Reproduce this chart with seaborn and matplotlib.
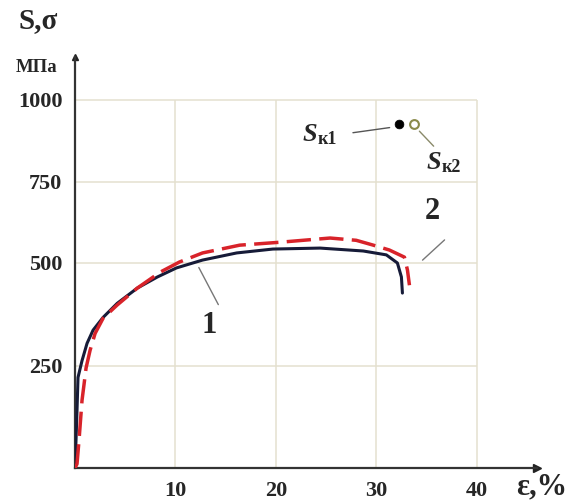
import matplotlib
matplotlib.use("Agg")
import matplotlib.pyplot as plt
import numpy as np
import seaborn as sns

# curve 1 (solid) and curve 2 (dashed), strain % vs stress MPa
black_eps = [0, 0.1, 0.2, 0.3, 0.7, 1.2, 1.8, 2.8, 4.2, 6.2, 8.2, 10.1, 12.7, 16.1,
             19.7, 24.4, 28.7, 31.0, 32.1, 32.5, 32.6]
black_s = [0, 68, 141, 222, 263, 305, 337, 368, 402, 439, 466, 488, 509, 531,
           543, 546, 537, 525, 500, 466, 427]

red_eps = [0, 0.2, 0.4, 0.7, 0.9, 1.1, 1.5, 2.0, 2.8, 4.2, 6.2, 8.5, 10.4, 12.7,
           16.4, 20.4, 25.4, 28.0, 29.7, 31.3, 32.8, 33.1, 33.3]
red_s = [0, 10, 68, 166, 205, 245, 288, 329, 366, 398, 439, 478, 503, 531,
         555, 564, 577, 570, 555, 540, 518, 483, 446]

# fracture points S_k1, S_k2
sk_eps = [32.3, 33.8]
sk_s = [927, 927]

x_ticks = [10, 20, 30, 40]
y_ticks = [250, 500, 750, 1000]

# the stress axis of the original is not evenly spaced above 500
y_val = [-1000, 0, 250, 500, 750, 1000, 1250, 3000]
y_pix = [-408, 0, 102, 205, 286, 368, 450, 1024]


def fwd(v):
    return np.interp(v, y_val, y_pix)


def inv(h):
    return np.interp(h, y_pix, y_val)


sns.set_style("white")
plt.rcParams['font.family'] = ['Liberation Serif', 'DejaVu Serif']
plt.rcParams['font.weight'] = 'bold'

fig = plt.figure(figsize=(5.73, 5.03), dpi=100)
ax = fig.add_axes([75 / 573, 35 / 503, 462 / 573, 411 / 503])
ax.set_yscale('function', functions=(fwd, inv))
ax.set_xlim(0, 46)
ax.set_ylim(0, 1131)

# grid
grid_c = '#e4e0cf'
ax.hlines(y_ticks, 0, 40, color=grid_c, lw=1.1, zorder=0)
ax.vlines(x_ticks, 0, 1000, color=grid_c, lw=1.1, zorder=0)

sns.lineplot(x=black_eps, y=black_s, sort=False, estimator=None, ax=ax,
             color='#161b38', lw=2.2, zorder=3)
sns.lineplot(x=red_eps, y=red_s, sort=False, estimator=None, ax=ax,
             color='#d8232a', lw=2.5, zorder=4)
ax.lines[-2].set_solid_joinstyle('round')
ax.lines[-1].set_dashes((7, 2.4))
ax.lines[-1].set_dash_joinstyle('round')

sns.scatterplot(x=sk_eps[:1], y=sk_s[:1], ax=ax, color='black', s=40,
                edgecolor='black', zorder=5)
sns.scatterplot(x=sk_eps[1:], y=sk_s[1:], ax=ax, facecolor='white', s=40,
                edgecolor='#8a8a4a', linewidth=1.5, zorder=5)

# spines + arrows
for side in ['top', 'right']:
    ax.spines[side].set_visible(False)
for side in ['left', 'bottom']:
    ax.spines[side].set_color('#333333')
    ax.spines[side].set_linewidth(1.6)
ax.plot(1, 0, '>', color='#222222', ms=6, transform=ax.get_yaxis_transform(), clip_on=False)
ax.plot(0, 1, '^', color='#222222', ms=5, transform=ax.get_xaxis_transform(), clip_on=False)

ax.set_xticks(x_ticks)
ax.set_yticks(y_ticks)
ax.set_xticklabels([str(t) for t in x_ticks])
ax.set_yticklabels([str(t) for t in y_ticks])
ax.tick_params(axis='y', direction='out', length=7, width=1.2, color='#666666',
               labelsize=16, pad=2)
ax.tick_params(axis='x', direction='inout', length=8, width=1.0, color='#888888',
               labelsize=16, pad=5)
ax.minorticks_off()
ax.set_xlabel('')
ax.set_ylabel('')

# axis titles
fig.text(18 / 573, 1 - 28 / 503, 'S,σ', fontsize=21, fontweight='bold')
fig.text(16 / 573, 1 - 72 / 503, 'МПа', fontsize=13.5, fontweight='bold')
fig.text(516 / 573, 2 / 503, 'ε,%', fontsize=22, fontweight='bold', va='bottom')

# curve labels
ax.annotate('', xy=(12.2, 495), xytext=(14.4, 393),
            arrowprops=dict(arrowstyle='-', color='#777777', lw=1.0))
ax.text(13.4, 349, '1', fontsize=22, fontweight='bold', ha='center', va='center')
ax.annotate('', xy=(34.4, 503), xytext=(37.0, 577),
            arrowprops=dict(arrowstyle='-', color='#777777', lw=1.0))
ax.text(35.6, 660, '2', fontsize=22, fontweight='bold', ha='center', va='center')

# S_k labels
ax.annotate('', xy=(31.6, 917), xytext=(27.4, 899),
            arrowprops=dict(arrowstyle='-', color='#555555', lw=1.0))
ax.text(22.7, 895, 'S', fontsize=19, fontweight='bold', style='italic', ha='left', va='center')
ax.text(24.2, 880, 'к1', fontsize=13, fontweight='bold', ha='left', va='center')
ax.annotate('', xy=(34.1, 911), xytext=(35.9, 853),
            arrowprops=dict(arrowstyle='-', color='#8a8a6a', lw=1.0))
ax.text(35.0, 810, 'S', fontsize=19, fontweight='bold', style='italic', ha='left', va='center')
ax.text(36.5, 795, 'к2', fontsize=13, fontweight='bold', ha='left', va='center')

fig.savefig('out.png', dpi=100)
